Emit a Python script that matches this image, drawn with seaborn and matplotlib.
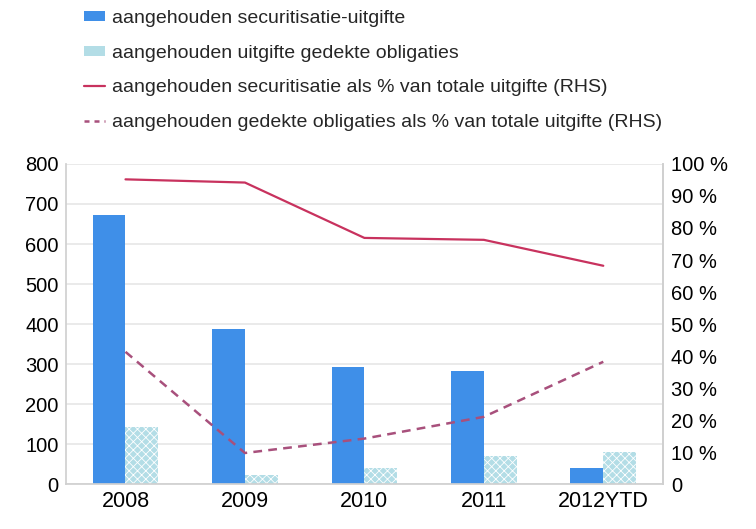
import matplotlib
matplotlib.use("Agg")
import matplotlib.pyplot as plt
import seaborn as sns
import pandas as pd
from matplotlib.patches import Patch
from matplotlib.lines import Line2D

years = ["2008", "2009", "2010", "2011", "2012YTD"]
securitisation = [673, 388, 293, 283, 40]
covered_bonds = [143, 22, 40, 70, 80]
sec_pct = [95.2, 94.2, 76.9, 76.3, 68.2]
cov_pct = [41.3, 9.7, 14.2, 21.0, 38.2]

labels = [
    "aangehouden securitisatie-uitgifte",
    "aangehouden uitgifte gedekte obligaties",
    "aangehouden securitisatie als % van totale uitgifte (RHS)",
    "aangehouden gedekte obligaties als % van totale uitgifte (RHS)",
]

sns.set_theme(style="white")
plt.rcParams["font.family"] = ["Liberation Sans", "DejaVu Sans"]
plt.rcParams["hatch.color"] = "white"
plt.rcParams["hatch.linewidth"] = 0.6

blue = "#3f8fe8"
light = "#b3dde6"
red = "#c8325e"
dash_col = "#a8507c"

bars = pd.DataFrame({
    "year": years * 2,
    "value": securitisation + covered_bonds,
    "series": [labels[0]] * 5 + [labels[1]] * 5,
})

fig = plt.figure(figsize=(7.56, 5.29), dpi=100)
ax = fig.add_axes([0.087, 0.085, 0.79, 0.605])
sns.barplot(data=bars, x="year", y="value", hue="series", ax=ax,
            palette=[blue, light], width=0.55, gap=0, saturation=1,
            legend=False, edgecolor="none")
for p in ax.patches[5:10]:
    p.set_hatch("xxxx")
    p.set_edgecolor("white")
    p.set_linewidth(0)

ax.set_ylim(0, 800)
ax.set_yticks(range(0, 801, 100))
ax.set_xlim(-0.5, 4.5)
ax.yaxis.grid(True, color="#e6e6e6", linewidth=1.2)
ax.set_axisbelow(True)
ax.set_xlabel("")
ax.set_ylabel("")
ax.spines["top"].set_visible(False)
for s in ["left", "right", "bottom"]:
    ax.spines[s].set_color("#d0d0d0")
ax.tick_params(axis="y", labelsize=14.5, length=0, pad=5, colors="black")
ax.tick_params(axis="x", labelsize=15.5, length=0, pad=5, colors="black")

ax2 = ax.twinx()
pct = pd.DataFrame({"year": years, "sec": sec_pct, "cov": cov_pct})
sns.lineplot(data=pct, x="year", y="sec", ax=ax2, color=red, linewidth=1.6, sort=False)
sns.lineplot(data=pct, x="year", y="cov", ax=ax2, color=dash_col, linewidth=1.8,
             linestyle=(0, (3.5, 2.5)), sort=False)
ax2.set_ylim(0, 100)
ax2.set_yticks(range(0, 101, 10))
ax2.set_yticklabels(["0"] + [f"{v} %" for v in range(10, 101, 10)])
ax2.set_xlim(-0.5, 4.5)
ax2.set_ylabel("")
ax2.set_xlabel("")
ax2.tick_params(axis="y", labelsize=14.5, length=0, pad=6, colors="black")
for s in ["top", "left", "bottom"]:
    ax2.spines[s].set_visible(False)
ax2.spines["right"].set_color("#d0d0d0")

handles = [
    Patch(facecolor=blue, edgecolor="none"),
    Patch(facecolor=light, edgecolor="none"),
    Line2D([], [], color=red, linewidth=1.6),
    Line2D([], [], color=dash_col, linewidth=1.8, linestyle=(0, (2, 2))),
]
fig.legend(handles, labels, loc="upper left", bbox_to_anchor=(0.088, 1.014),
           frameon=False, fontsize=14, handlelength=1.1, handleheight=0.4,
           handletextpad=0.35, labelspacing=0.9)

fig.savefig("out.png", dpi=100)
